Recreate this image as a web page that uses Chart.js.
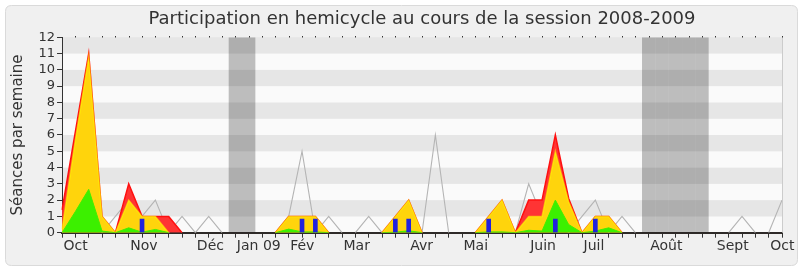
<!DOCTYPE html>
<html><head><meta charset="utf-8">
<script src="https://cdn.jsdelivr.net/npm/chart.js@4"></script>
<style>html,body{margin:0;padding:0;background:#fff;}#wrap{width:800px;height:267px;}</style>
</head><body><div id="wrap"><canvas id="c" width="800" height="267"></canvas></div>
<script>
// Week labels (one per week, month names where shown)
const weekLabels = ['Oct','','','','','Nov','','','','',
  'Déc','','','Jan 09','','','','Fév','','',
  '','Mar','','','','','Avr','','','',
  'Mai','','','','','Juin','','','','Juil',
  '','','','','Août','','','','','Sept',
  '','','','Oct',''];

// Red area
const presences = [1.4,6.2,11,1,0,3,1,1,1,0,
  0,0,0,0,0,0,0,1,1,1,
  0,0,0,0,0,1,2,0,0,0,
  0,0,1,2,0,2,2,6,2.1,0,
  1,1,0,0,0,0,0,0,0,0,
  0,0,0,0,0];
// Yellow area
const participations = [0.2,5.7,10.8,1,0,2,1,1,0,0,
  0,0,0,0,0,0,0,1,1,1,
  0,0,0,0,0,1,2,0,0,0,
  0,0,1,2,0,1,1,5,1.9,0,
  1,1,0,0,0,0,0,0,0,0,
  0,0,0,0,0];
// Green area
const interventions = [0,1.3,2.66,0.1,0,0.3,0.03,0.2,0,0,
  0,0,0,0,0,0,0,0.22,0.05,0.05,
  0,0,0,0,0,0.03,0.12,0,0,0,
  0,0,0.05,0.05,0,0.15,0.1,2,0.5,0,
  0.1,0.3,0,0,0,0,0,0,0,0,
  0,0,0,0,0];
// Blue bars
const questions = [null,null,null,null,null,null,0.83,null,null,null,
  null,null,null,null,null,null,null,null,0.83,0.83,
  null,null,null,null,null,0.83,0.83,null,null,null,
  null,null,0.83,null,null,null,null,0.83,null,null,
  0.83,null,null,null,null,null,null,null,null,null,
  null,null,null,null,null];
// Grey line (median)
const mediane = [0,1,2,0,1,2,1,2,0,1,
  0,1,0,0,0,0,0,1,5,0,
  1,0,0,1,0,0,0,0,6,0,
  0,0,0,0,0,3,1,1,0,1,
  2,0,1,0,0,0,0,0,0,0,
  0,1,0,0,2];
// Holiday weeks (shaded)
const vacancesWeeks = [13,14,44,45,46,47,48];
const yMax = 12;
const vacances = weekLabels.map((_, i) => vacancesWeeks.includes(i) ? yMax : null);

Chart.defaults.font.family = "'DejaVu Sans', sans-serif";

// hide border segments lying on the zero axis
const hideZero = { borderColor: c => (c.p0.parsed.y === 0 && c.p1.parsed.y === 0) ? 'rgba(0,0,0,0)' : undefined };

function roundRect(ctx, x, y, w, h, r) {
  ctx.beginPath();
  ctx.moveTo(x + r, y);
  ctx.lineTo(x + w - r, y); ctx.quadraticCurveTo(x + w, y, x + w, y + r);
  ctx.lineTo(x + w, y + h - r); ctx.quadraticCurveTo(x + w, y + h, x + w - r, y + h);
  ctx.lineTo(x + r, y + h); ctx.quadraticCurveTo(x, y + h, x, y + h - r);
  ctx.lineTo(x, y + r); ctx.quadraticCurveTo(x, y, x + r, y);
  ctx.closePath();
}

const bgPlugin = {
  id: 'bg',
  beforeDraw(chart) {
    const {ctx, width, height, chartArea: a, scales: {x, y}} = chart;
    ctx.save();
    ctx.fillStyle = '#ffffff';
    ctx.fillRect(0, 0, width, height);
    roundRect(ctx, 5.5, 5.5, width - 8, height - 7, 6);
    ctx.fillStyle = '#f0f0f0'; ctx.fill();
    ctx.strokeStyle = '#dadada'; ctx.lineWidth = 1; ctx.stroke();
    for (let k = 0; k < yMax; k++) {
      const t = y.getPixelForValue(k + 1), b = y.getPixelForValue(k);
      ctx.fillStyle = (k % 2 === 1) ? '#e6e6e6' : '#fafafa';
      ctx.fillRect(a.left, t, a.right - a.left, b - t);
    }
    ctx.restore();
  },
  afterDraw(chart) {
    const {ctx, chartArea: a, scales: {x}} = chart;
    ctx.save();
    ctx.strokeStyle = '#cccccc'; ctx.lineWidth = 1;
    ctx.beginPath(); ctx.moveTo(Math.round(a.right) + 0.5, a.top); ctx.lineTo(Math.round(a.right) + 0.5, a.bottom); ctx.stroke();
    ctx.fillStyle = '#333';
    for (let i = 1; i < weekLabels.length; i++) {
      const px = Math.round(x.getPixelForTick(i));
      ctx.fillRect(px, Math.round(a.top) - 1, 1, 1.5);
    }
    ctx.restore();
  }
};

new Chart(document.getElementById('c'), {
  type: 'line',
  data: {
    labels: weekLabels,
    datasets: [
      { type: 'bar', data: questions, backgroundColor: '#2222dd', barThickness: 4, grouped: false, order: 0 },
      { type: 'line', data: interventions, fill: 'origin', backgroundColor: '#3cf000', borderColor: '#44ee00', borderWidth: 1, pointRadius: 0, tension: 0, order: 1, segment: hideZero },
      { type: 'line', data: participations, fill: 'origin', backgroundColor: '#ffd40c', borderColor: 'rgba(255,255,0,0.55)', borderWidth: 1.5, pointRadius: 0, tension: 0, order: 2, segment: hideZero },
      { type: 'line', data: presences, fill: 'origin', backgroundColor: '#ff3434', borderColor: '#ff1010', borderWidth: 1.5, pointRadius: 0, tension: 0, order: 3, segment: hideZero },
      { type: 'line', data: mediane, fill: false, borderColor: '#b4b4b4', borderWidth: 1.1, pointRadius: 0, tension: 0, order: 4, segment: hideZero },
      { type: 'bar', data: vacances, backgroundColor: 'rgba(0,0,0,0.245)', categoryPercentage: 1, barPercentage: 1, inflateAmount: 0, borderWidth: 0, grouped: false, order: 5 }
    ]
  },
  options: {
    responsive: false, animation: false, devicePixelRatio: 1,
    layout: { padding: { left: 0, right: 18, top: 0, bottom: 12.5 } },
    plugins: {
      legend: { display: false }, tooltip: { enabled: false },
      title: { display: true, text: 'Participation en hemicycle au cours de la session 2008-2009', fullSize: false,
        font: { size: 18, weight: 'normal' }, color: '#333', padding: { top: 9, bottom: 6.6 } }
    },
    scales: {
      x: { type: 'category', offset: false, z: 1,
        grid: { drawOnChartArea: false, tickLength: 5, color: '#333', offset: false },
        border: { color: '#2e2a28', width: 2 },
        ticks: { autoSkip: false, maxRotation: 0, minRotation: 0, align: 'start', padding: 0, labelOffset: 1.5,
          font: { size: 14 }, color: '#333' } },
      y: { min: 0, max: yMax, z: 1,
        ticks: { stepSize: 1, autoSkip: false, font: { size: 13 }, padding: 2, color: '#333' },
        grid: { drawOnChartArea: false, tickLength: 5, color: '#333' },
        border: { color: '#333', width: 1 },
        title: { display: true, text: 'Séances par semaine', font: { size: 15 }, color: '#333', padding: { top: 9, bottom: 9.5 } } }
    }
  },
  plugins: [bgPlugin]
});
</script></body></html>
